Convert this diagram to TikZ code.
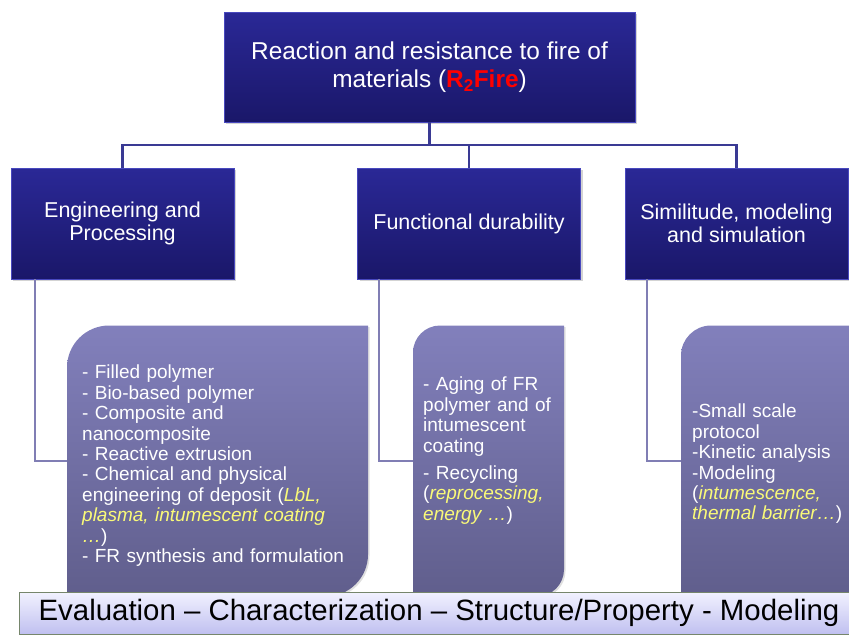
\documentclass[tikz,border=0pt]{standalone}
\usepackage{fontspec}
\setmainfont{Liberation Sans}
\usetikzlibrary{calc,shadows}
\definecolor{navyhi}{RGB}{42,40,150}
\definecolor{navylo}{RGB}{26,23,105}
\definecolor{navyedge}{RGB}{72,72,190}
\definecolor{lowhi}{RGB}{130,128,188}
\definecolor{lowlo}{RGB}{96,94,140}
\definecolor{linkcol}{RGB}{58,58,148}
\definecolor{sublinkcol}{RGB}{128,126,180}
\definecolor{notecol}{RGB}{250,250,120}
\definecolor{bannerhi}{RGB}{242,242,255}
\definecolor{bannerlo}{RGB}{192,192,240}
\definecolor{bannerrim}{RGB}{118,134,108}
\tikzset{
  topbox/.style={top color=navyhi, bottom color=navylo, draw=navyedge, line width=0.8pt,
    text=white, minimum width=411pt, minimum height=110pt, inner sep=0pt, align=center,
    font=\fontsize{24.4}{28}\selectfont,
    drop shadow={opacity=0.35, shadow xshift=2pt, shadow yshift=-2pt}},
  midbox/.style={topbox, minimum width=223pt, minimum height=111pt,
    font=\fontsize{21.5}{22.5}\selectfont},
  lowbox/.style={inner sep=0pt, outer sep=0pt},
  lowfill/.style={top color=lowhi, bottom color=lowlo,
    drop shadow={opacity=0.25, shadow xshift=1.5pt, shadow yshift=-1.5pt}},
  lowtext/.style={text=white, anchor=north west, inner sep=0pt, align=left,
    font=\fontsize{19}{20.4}\selectfont},
  banner/.style={top color=bannerhi, bottom color=bannerlo, draw=bannerrim, line width=1pt,
    minimum width=840pt, minimum height=42pt, inner sep=0pt,
    font=\fontsize{29.4}{30}\selectfont},
  link/.style={draw=linkcol, line width=2.2pt},
  sublink/.style={draw=sublinkcol, line width=1.8pt},
}
\newcommand{\yelnote}[1]{\textcolor{notecol}{\itshape #1}}
% box with two rounded diagonal corners, drawn round an empty node
\newcommand{\diagbox}[2]{%
  \path[lowfill] let \p1=(#1.north west), \p2=(#1.south east) in
    (\x1,\y1-#2pt) .. controls (\x1,\y1-0.45*#2pt) and (\x1+0.45*#2pt,\y1) .. (\x1+#2pt,\y1)
    -- (\x2,\y1) -- (\x2,\y2+#2pt)
    .. controls (\x2,\y2+0.45*#2pt) and (\x2-0.45*#2pt,\y2) .. (\x2-#2pt,\y2)
    -- (\x1,\y2) -- cycle;}
\begin{document}
\begin{tikzpicture}[x=1pt, y=-1pt]
  \useasboundingbox (0,0) rectangle (849,635);
  \clip (0,0) rectangle (849,635);
  % top level
  \node[topbox] (root) at (429.5,67) {Reaction and resistance to fire of\\materials ({\color{red}\bfseries R\textsubscript{2}Fire})};
  % second level
  \node[midbox] (eng) at (122.5,223.5) {Engineering and\\Processing};
  \node[midbox] (dur) at (469,223.5) {Functional durability};
  \node[midbox] (sim) at (736.5,223.5) {Similitude, modeling\\and simulation};
  \coordinate (bus) at (429.5,145);
  \draw[link] (root.south) -- (bus);
  \draw[link] (bus) -| (eng.north);
  \draw[link] (bus) -| (dur.north);
  \draw[link] (bus) -| (sim.north);
  % third level
  \node[lowbox, minimum width=301pt, minimum height=271pt] (engl) at (217.5,461) {};
  \node[lowbox, minimum width=151pt, minimum height=271pt] (durl) at (488.5,461) {};
  \node[lowbox, minimum width=190pt, minimum height=271pt] (siml) at (776,461) {};
  \draw[sublink] ([xshift=24pt]eng.south west) |- (engl.west);
  \draw[sublink] ([xshift=22pt]dur.south west) |- (durl.west);
  \draw[sublink] ([xshift=22pt]sim.south west) |- (siml.west);
  \diagbox{engl}{42}
  \diagbox{durl}{27}
  \diagbox{siml}{30}
  \node[lowtext, text width=271pt] (engt) at (82,365) {- Filled polymer\\- Bio-based polymer\\- Composite and\\nanocomposite\\- Reactive extrusion\\- Chemical and physical\\engineering of deposit (\yelnote{LbL,}\\\yelnote{plasma, intumescent coating}\\\yelnote{…})\\- FR synthesis and formulation};
  \node[lowtext, text width=140pt] (durt) at (423,377) {- Aging of FR\\polymer and of\\intumescent\\coating\\[7pt]- Recycling\\(\yelnote{reprocessing,}\\\yelnote{energy …})};
  \node[lowtext, text width=170pt] (simt) at (692,404) {-Small scale\\protocol\\-Kinetic analysis\\-Modeling\\(\yelnote{intumescence,}\\\yelnote{thermal barrier…})};
  % bottom banner
  \node[banner] (eval) at (439,613) {Evaluation – Characterization – Structure/Property - Modeling};
\end{tikzpicture}
\end{document}
